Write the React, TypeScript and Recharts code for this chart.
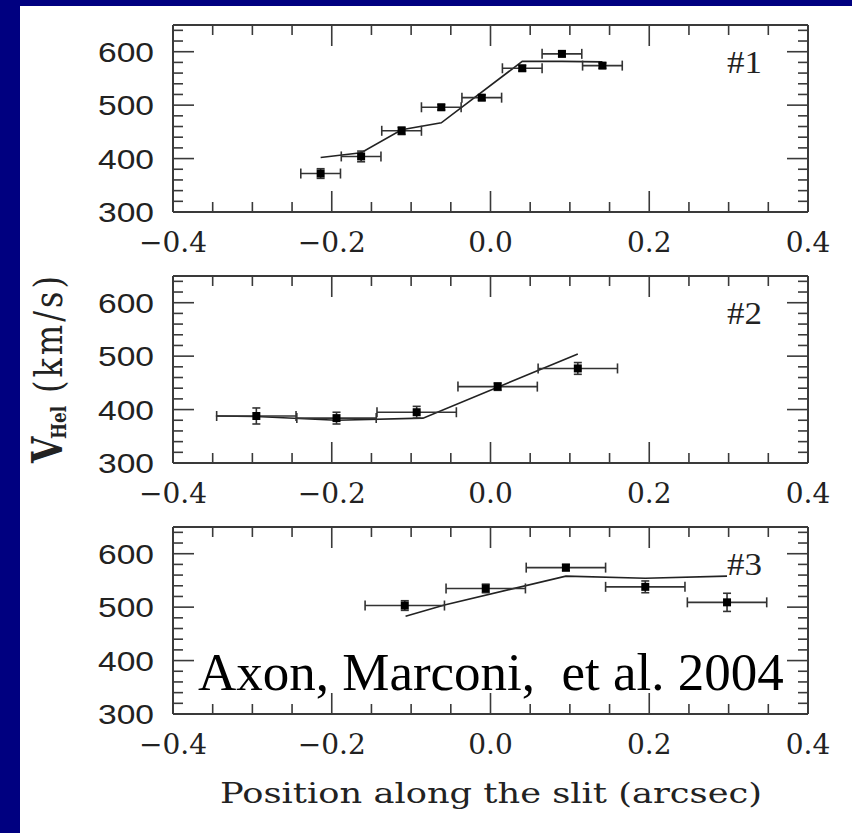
import React from "react";
import { ComposedChart, Scatter, Line, XAxis, YAxis, ErrorBar } from "recharts";

// axis ticks
const xTicks = [-0.4, -0.35, -0.3, -0.25, -0.2, -0.15, -0.1, -0.05, 0, 0.05, 0.1, 0.15, 0.2, 0.25, 0.3, 0.35, 0.4];
const xLabelTicks = [-0.4, -0.2, 0, 0.2, 0.4];
const yTicks = [300, 320, 340, 360, 380, 400, 420, 440, 460, 480, 500, 520, 540, 560, 580, 600, 620, 640];
const yLabelTicks = [300, 400, 500, 600];

// slit #1
const pos1 = [-0.214, -0.163, -0.112, -0.062, -0.011, 0.04, 0.09, 0.141];
const vel1 = [372, 404, 452, 496, 514, 569, 596, 574];
const velErr1 = [9, 10, 7, 5, 5, 5, 5, 5];
const posErr1 = 0.025;
const modelPos1 = [-0.214, -0.163, -0.112, -0.062, 0.04, 0.09, 0.141];
const modelVel1 = [402, 411, 454, 467, 582, 582, 581];

// slit #2
const pos2 = [-0.295, -0.194, -0.093, 0.009, 0.11];
const vel2 = [388, 384, 395, 443, 477];
const velErr2 = [15, 11, 11, 7, 11];
const posErr2 = 0.05;
const modelPos2 = [-0.346, -0.295, -0.194, -0.085, 0.11];
const modelVel2 = [388, 387, 380, 384, 504];

// slit #3
const pos3 = [-0.108, -0.006, 0.095, 0.195, 0.298];
const vel3 = [503, 535, 574, 538, 509];
const velErr3 = [9, 8, 6, 11, 17];
const posErr3 = 0.05;
const modelPos3 = [-0.107, -0.058, 0.095, 0.195, 0.298];
const modelVel3 = [483, 504, 558, 554, 558];

const INK = "#222";
const FRAME = "#3a3a3a";
const MAJOR = 21;
const MINOR = 10;

const obsPoints = (xs: number[], vs: number[], errs: number[], ex: number) =>
  xs.map((x, i) => ({ x, y: vs[i], ex, ey: errs[i] }));
const modelPoints = (xs: number[], vs: number[]) => xs.map((x, i) => ({ x, y: vs[i] }));

const near = (list: number[], v: number) => list.some((t) => Math.abs(t - v) < 1e-6);
const fmtX = (v: number) => (Math.abs(v) < 1e-9 ? "0.0" : v.toFixed(1).replace("-", "\u2212"));

function BottomTick(props: any) {
  const { x, y, payload } = props;
  const major = near(xLabelTicks, payload.value);
  return (
    <g>
      <line x1={x} x2={x} y1={y} y2={y - (major ? MAJOR : MINOR)} stroke={FRAME} strokeWidth={1.6} />
      {major && (
        <text x={x} y={y + 40} textAnchor="middle" fontFamily="DejaVu Serif" fontSize={28} fill={INK}>
          {fmtX(payload.value)}
        </text>
      )}
    </g>
  );
}

function TopTick(props: any) {
  const { x, y, payload } = props;
  const major = near(xLabelTicks, payload.value);
  return <line x1={x} x2={x} y1={y} y2={y + (major ? MAJOR : MINOR)} stroke={FRAME} strokeWidth={1.6} />;
}

function LeftTick(props: any) {
  const { x, y, payload } = props;
  const major = near(yLabelTicks, payload.value);
  return (
    <g>
      <line x1={x} x2={x + (major ? MAJOR : MINOR)} y1={y} y2={y} stroke={FRAME} strokeWidth={1.6} />
      {major && (
        <text
          x={x - 19}
          y={y + 10}
          textAnchor="end"
          fontFamily="Liberation Sans"
          fontSize={28}
          textLength={56}
          lengthAdjust="spacingAndGlyphs"
          fill={INK}
        >
          {payload.value}
        </text>
      )}
    </g>
  );
}

function RightTick(props: any) {
  const { x, y, payload } = props;
  const major = near(yLabelTicks, payload.value);
  return <line x1={x} x2={x - (major ? MAJOR : MINOR)} y1={y} y2={y} stroke={FRAME} strokeWidth={1.6} />;
}

const axisLine = { stroke: FRAME, strokeWidth: 2 };

function Panel({ obs, model, top }: { obs: any[]; model: any[]; top: number }) {
  return (
    <div style={{ position: "absolute", left: 0, top: top - 20, width: 852, height: 257 }}>
      <ComposedChart width={852} height={257} margin={{ top: 19, right: 43, bottom: 49, left: 172 }}>
        <XAxis
          xAxisId="b"
          dataKey="x"
          type="number"
          domain={[-0.4, 0.4]}
          allowDataOverflow
          ticks={xTicks}
          interval={0}
          height={1}
          tickSize={0}
          tickMargin={0}
          tickLine={false}
          axisLine={axisLine}
          tick={(p: any) => <BottomTick {...p} />}
        />
        <XAxis
          xAxisId="t"
          orientation="top"
          dataKey="x"
          type="number"
          domain={[-0.4, 0.4]}
          allowDataOverflow
          ticks={xTicks}
          interval={0}
          height={1}
          tickSize={0}
          tickMargin={0}
          tickLine={false}
          axisLine={axisLine}
          tick={(p: any) => <TopTick {...p} />}
        />
        <YAxis
          yAxisId="l"
          dataKey="y"
          type="number"
          domain={[300, 650]}
          allowDataOverflow
          ticks={yTicks}
          interval={0}
          width={1}
          tickSize={0}
          tickMargin={0}
          tickLine={false}
          axisLine={axisLine}
          tick={(p: any) => <LeftTick {...p} />}
        />
        <YAxis
          yAxisId="r"
          orientation="right"
          dataKey="y"
          type="number"
          domain={[300, 650]}
          allowDataOverflow
          ticks={yTicks}
          interval={0}
          width={1}
          tickSize={0}
          tickMargin={0}
          tickLine={false}
          axisLine={axisLine}
          tick={(p: any) => <RightTick {...p} />}
        />
        <Line
          xAxisId="b"
          yAxisId="l"
          data={model}
          dataKey="y"
          type="linear"
          stroke={INK}
          strokeWidth={1.6}
          dot={false}
          isAnimationActive={false}
        />
        <Scatter xAxisId="b" yAxisId="l" data={obs} dataKey="y" shape="square" fill="#000" isAnimationActive={false}>
          <ErrorBar dataKey="ex" direction="x" width={5} stroke="#333" strokeWidth={1.6} isAnimationActive={false} />
          <ErrorBar dataKey="ey" direction="y" width={4} stroke="#333" strokeWidth={1.6} isAnimationActive={false} />
        </Scatter>
      </ComposedChart>
    </div>
  );
}

export default function App() {
  return (
    <div style={{ position: "absolute", left: 0, top: 0, width: 852, height: 833, background: "#000080", overflow: "hidden" }}>
      <div style={{ position: "absolute", left: 20, top: 6, width: 832, height: 827, background: "#fff" }} />
      <Panel obs={obsPoints(pos1, vel1, velErr1, posErr1)} model={modelPoints(modelPos1, modelVel1)} top={25} />
      <Panel obs={obsPoints(pos2, vel2, velErr2, posErr2)} model={modelPoints(modelPos2, modelVel2)} top={276} />
      <Panel obs={obsPoints(pos3, vel3, velErr3, posErr3)} model={modelPoints(modelPos3, modelVel3)} top={527} />
      <svg width={852} height={833} style={{ position: "absolute", left: 0, top: 0, pointerEvents: "none" }}>
        {["#1", "#2", "#3"].map((t, i) => (
          <text
            key={t}
            x={727}
            y={73 + i * 251}
            fontFamily="Liberation Serif"
            fontSize={31}
            textLength={35}
            lengthAdjust="spacingAndGlyphs"
            fill={INK}
          >
            {t}
          </text>
        ))}
        <text transform="translate(62,463) rotate(-90) scale(1,1.25)" fontFamily="DejaVu Serif" fill={INK}>
          <tspan x={0} fontSize={34} fontWeight="bold">V</tspan>
          <tspan x={24} dy={3} fontSize={17} fontWeight="bold">Hel</tspan>
          <tspan x={70} dy={-3} fontSize={32} letterSpacing={3}>(km/s)</tspan>
        </text>
        <text
          x={491}
          y={803}
          textAnchor="middle"
          fontFamily="DejaVu Serif"
          fontSize={27}
          textLength={542}
          lengthAdjust="spacingAndGlyphs"
          fill={INK}
        >
          Position along the slit (arcsec)
        </text>
        <text x={198} y={690} fontFamily="Liberation Serif" fontSize={53} fill="#000" style={{ whiteSpace: "pre" }}>
          Axon, Marconi,  et al. 2004
        </text>
      </svg>
    </div>
  );
}
